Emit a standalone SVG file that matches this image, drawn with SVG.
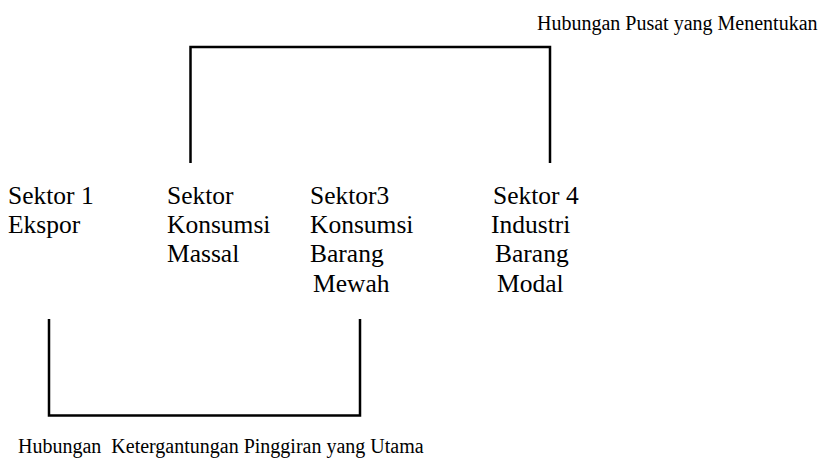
<svg xmlns="http://www.w3.org/2000/svg" width="823" height="465" viewBox="0 0 823 465">
<style>
text{font-family:"Liberation Serif","Times New Roman",serif;fill:#000}
.s{font-size:25.5px}
.l{font-size:20px}
.c{fill:none;stroke:#000;stroke-width:2.5;stroke-linejoin:miter}
</style>
<rect width="823" height="465" fill="#fff"/>
<g id="connectors">
<path class="c" d="M190.5 163 V47 H550 V163"/>
<path class="c" d="M49 319 V415.5 H360 V319"/>
</g>
<g id="label-top"><text class="l" x="537" y="30">Hubungan Pusat yang Menentukan</text></g>
<g id="label-bottom"><text class="l" x="18" y="453" xml:space="preserve">Hubungan  Ketergantungan Pinggiran yang Utama</text></g>
<g id="sektor1">
<text class="s" x="8" y="203.5">Sektor 1</text>
<text class="s" x="8" y="233">Ekspor</text>
</g>
<g id="sektor2">
<text class="s" x="167" y="203.5">Sektor</text>
<text class="s" x="167" y="233">Konsumsi</text>
<text class="s" x="167" y="262">Massal</text>
</g>
<g id="sektor3">
<text class="s" x="310" y="203.5">Sektor3</text>
<text class="s" x="310" y="233">Konsumsi</text>
<text class="s" x="310" y="262">Barang</text>
<text class="s" x="313" y="292">Mewah</text>
</g>
<g id="sektor4">
<text class="s" x="493" y="203.5">Sektor 4</text>
<text class="s" x="491" y="233">Industri</text>
<text class="s" x="495" y="262">Barang</text>
<text class="s" x="497" y="292">Modal</text>
</g>
</svg>
